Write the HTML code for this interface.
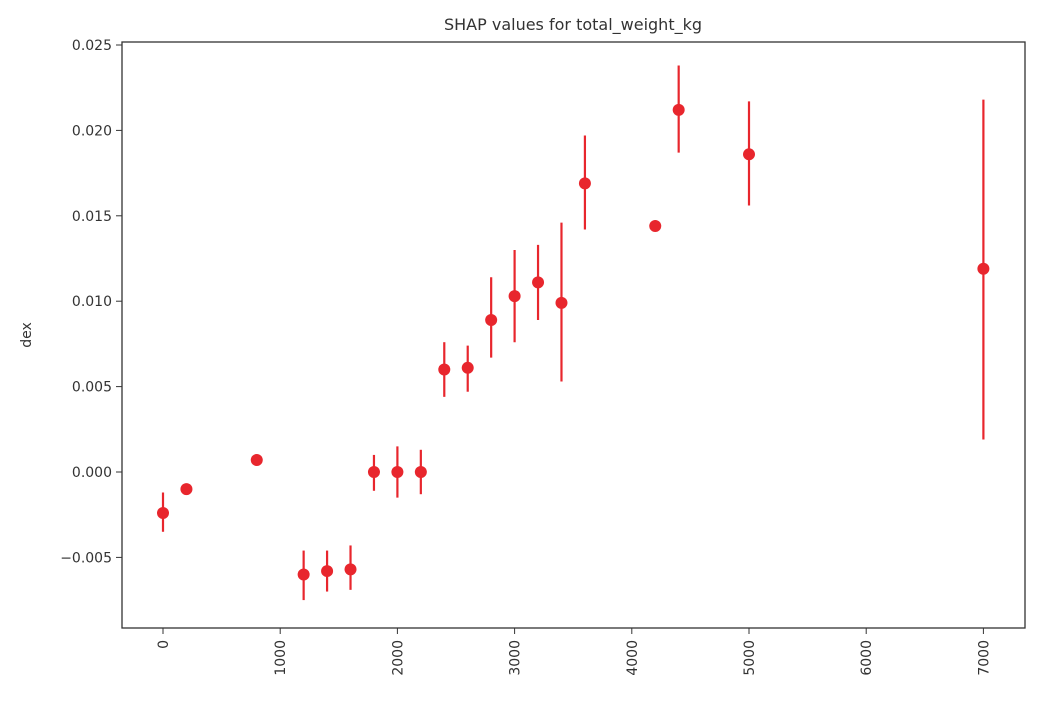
<!DOCTYPE html>
<html><head><meta charset="utf-8"><style>
body{margin:0;background:#fff;font-family:"Liberation Sans","DejaVu Sans",sans-serif}
svg text{fill:#333;font-size:14px;font-family:"DejaVu Sans","Liberation Sans",sans-serif}
</style></head><body>
<svg id="chart" width="1060" height="700">
<text x="573" y="30" text-anchor="middle" style="font-size:16px">SHAP values for total_weight_kg</text>
<text transform="translate(31,335) rotate(-90)" text-anchor="middle">dex</text>
<g id="marks"></g>
<rect x="122" y="42" width="903" height="586" fill="none" stroke="#333" stroke-width="1.3"/>
</svg>
<script>
const xs=[0,200,800,1200,1400,1600,1800,2000,2200,2400,2600,2800,3000,3200,3400,3600,4200,4400,5000,7000];
const ys=[-0.0024,-0.0010,0.0007,-0.0060,-0.0058,-0.0057,0,0,0,0.0060,0.0061,0.0089,0.0103,0.0111,0.0099,0.0169,0.0144,0.0212,0.0186,0.0119];
const lows=[-0.0035,null,null,-0.0075,-0.0070,-0.0069,-0.0011,-0.0015,-0.0013,0.0044,0.0047,0.0067,0.0076,0.0089,0.0053,0.0142,null,0.0187,0.0156,0.0019];
const highs=[-0.0012,null,null,-0.0046,-0.0046,-0.0043,0.0010,0.0015,0.0013,0.0076,0.0074,0.0114,0.0130,0.0133,0.0146,0.0197,null,0.0238,0.0217,0.0218];
const xTicks=[0,1000,2000,3000,4000,5000,6000,7000];
const yTicks=[-0.005,0,0.005,0.010,0.015,0.020,0.025];
const X=v=>163+v*0.1172;
const Y=v=>472-v*17080;
const NS="http://www.w3.org/2000/svg";
const g=document.getElementById('marks');
function mk(t,a){const e=document.createElementNS(NS,t);for(const k in a)e.setAttribute(k,a[k]);g.appendChild(e);return e;}
yTicks.forEach(t=>{
 const l=mk('line',{x1:116,x2:122,y1:Y(t),y2:Y(t),stroke:'#333'});
 
 
 const s=t<0?'\u2212'+Math.abs(t).toFixed(3):t.toFixed(3);
 const tx=mk('text',{x:112,y:Y(t)+5,'text-anchor':'end'});tx.textContent=s;
 
 
});
xTicks.forEach(t=>{
 const l=mk('line',{x1:X(t),x2:X(t),y1:628,y2:634,stroke:'#333'});
 
 
 const tx=mk('text',{transform:`translate(${X(t)+5},640) rotate(-90)`,'text-anchor':'end'});tx.textContent=t;
 
 
});
xs.forEach((x,i)=>{
 if(lows[i]!==null){
  const l=mk('line',{x1:X(x),x2:X(x),y1:Y(lows[i]),y2:Y(highs[i]),stroke:'#e8262d','stroke-width':2.2});
  
  
 }
 const c=mk('circle',{cx:X(x),cy:Y(ys[i]),r:6,fill:'#e8262d'});
 
 
});
</script>
</body></html>
